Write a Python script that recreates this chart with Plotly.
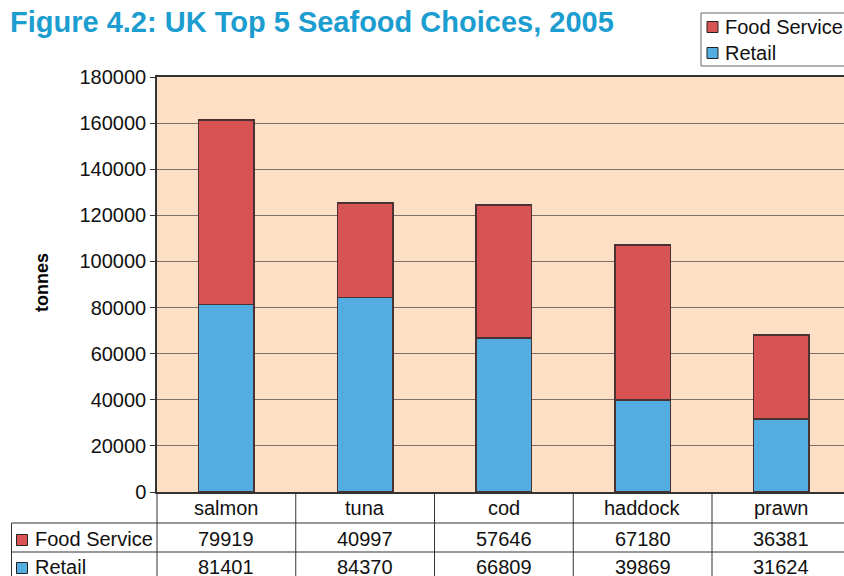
import plotly.graph_objects as go

W, H = 844, 576
categories = ["salmon", "tuna", "cod", "haddock", "prawn"]
food_service = [79919, 40997, 57646, 67180, 36381]
retail = [81401, 84370, 66809, 39869, 31624]
series_names = ["Food Service", "Retail"]
y_ticks = [0, 20000, 40000, 60000, 80000, 100000, 120000, 140000, 160000, 180000]
title_text = "Figure 4.2: UK Top 5 Seafood Choices, 2005"
y_title = "tonnes"

RED = "#d85353"
BLUE = "#53ade1"
PEACH = "#fddfc5"
EDGE = "#4a3232"
FONT = "Liberation Sans, Arial, sans-serif"

def py(px):
    return 1 - px / H

def pxx(px):
    return px / W

fig = go.Figure()
fig.add_trace(go.Bar(x=categories, y=retail, name=series_names[1], width=0.4,
                     marker=dict(color=BLUE, line=dict(color=EDGE, width=1.5)), showlegend=False))
fig.add_trace(go.Bar(x=categories, y=food_service, name=series_names[0], width=0.4,
                     marker=dict(color=RED, line=dict(color=EDGE, width=1.5)), showlegend=False))

left_px, right_px, top_px, bot_px = 157, 844, 77, 492
cat_w = 138.75
x_hi = -0.5 + (right_px - left_px) / cat_w

shapes = []
annotations = []

# title
annotations.append(dict(text=f"<b>{title_text}</b>", x=pxx(8), y=py(22), xref="paper", yref="paper",
                        xanchor="left", yanchor="middle", showarrow=False,
                        font=dict(family=FONT, size=29, color="#1c9dd0")))
# y title
annotations.append(dict(text=f"<b>{y_title}</b>", x=pxx(42), y=py(283), xref="paper", yref="paper",
                        textangle=-90, xanchor="center", yanchor="middle", showarrow=False,
                        font=dict(family=FONT, size=18, color="#000")))

# legend box (manual)
shapes.append(dict(type="rect", xref="paper", yref="paper", x0=pxx(701), x1=pxx(860),
                   y0=py(66), y1=py(13), line=dict(color="#666", width=1), fillcolor="white"))
leg_rows = [(series_names[0], RED, 27), (series_names[1], BLUE, 53)]
for name, col, cy in leg_rows:
    shapes.append(dict(type="rect", xref="paper", yref="paper", x0=pxx(707), x1=pxx(718),
                       y0=py(cy + 5.5), y1=py(cy - 5.5), line=dict(color="#222", width=1), fillcolor=col))
    annotations.append(dict(text=name, x=pxx(723), y=py(cy), xref="paper", yref="paper",
                            xanchor="left", yanchor="middle", showarrow=False,
                            font=dict(family=FONT, size=20, color="#111")))

# data table
TL = "#333"
shapes.append(dict(type="line", xref="paper", yref="paper", x0=pxx(11.5), x1=1, y0=py(523), y1=py(523),
                   line=dict(color=TL, width=1)))
shapes.append(dict(type="line", xref="paper", yref="paper", x0=pxx(11.5), x1=1, y0=py(552), y1=py(552),
                   line=dict(color=TL, width=1)))
shapes.append(dict(type="line", xref="paper", yref="paper", x0=pxx(11.5), x1=pxx(11.5), y0=py(523), y1=0,
                   line=dict(color=TL, width=1)))
shapes.append(dict(type="line", xref="paper", yref="paper", x0=pxx(157), x1=pxx(157), y0=py(492), y1=0,
                   line=dict(color=TL, width=1)))
for i in range(len(categories) - 1):
    shapes.append(dict(type="line", xref="x", yref="paper", x0=i + 0.5, x1=i + 0.5, y0=py(492), y1=0,
                       line=dict(color=TL, width=1)))

for i, c in enumerate(categories):
    annotations.append(dict(text=c, x=c, xref="x", y=py(508), yref="paper", xanchor="center",
                            yanchor="middle", showarrow=False, font=dict(family=FONT, size=20, color="#111")))
    annotations.append(dict(text=str(food_service[i]), x=c, xref="x", y=py(539), yref="paper",
                            xanchor="center", yanchor="middle", showarrow=False,
                            font=dict(family=FONT, size=20, color="#111")))
    annotations.append(dict(text=str(retail[i]), x=c, xref="x", y=py(567), yref="paper",
                            xanchor="center", yanchor="middle", showarrow=False,
                            font=dict(family=FONT, size=20, color="#111")))

for name, col, cy in [(series_names[0], RED, 540), (series_names[1], BLUE, 568)]:
    shapes.append(dict(type="rect", xref="paper", yref="paper", x0=pxx(16.5), x1=pxx(27.5),
                       y0=py(cy + 5.5), y1=py(cy - 5.5), line=dict(color="#222", width=1), fillcolor=col))
    annotations.append(dict(text=name, x=pxx(33), y=py(cy - 1), xref="paper", yref="paper",
                            xanchor="left", yanchor="middle", showarrow=False,
                            font=dict(family=FONT, size=20, color="#111")))

fig.update_layout(
    width=W, height=H, autosize=False,
    margin=dict(l=0, r=0, t=0, b=0, pad=0, autoexpand=False),
    paper_bgcolor="white", plot_bgcolor=PEACH,
    barmode="stack", bargap=0.6, showlegend=False,
    font=dict(family=FONT, size=20, color="#111"),
    xaxis=dict(domain=[pxx(left_px), 1], range=[-0.5, x_hi], showticklabels=False, ticks="",
               showgrid=False, showline=True, linecolor="#333", linewidth=1.5, mirror=True,
               type="category", fixedrange=True),
    yaxis=dict(domain=[py(bot_px), py(top_px)], range=[0, 180000], tickvals=y_ticks,
               ticktext=[str(v) for v in y_ticks], ticks="outside", ticklen=5, tickcolor="#333",
               tickwidth=1.2, showline=True, linecolor="#333", linewidth=1.5, showgrid=True,
               gridcolor="#7d6f66", gridwidth=1.3, zeroline=False,
               tickfont=dict(family=FONT, size=20, color="#111"), fixedrange=True),
    shapes=shapes, annotations=annotations,
)

fig.write_html("out.html", config={"displayModeBar": False},
               post_script="document.body.style.margin='0';document.body.style.overflow='hidden';")
